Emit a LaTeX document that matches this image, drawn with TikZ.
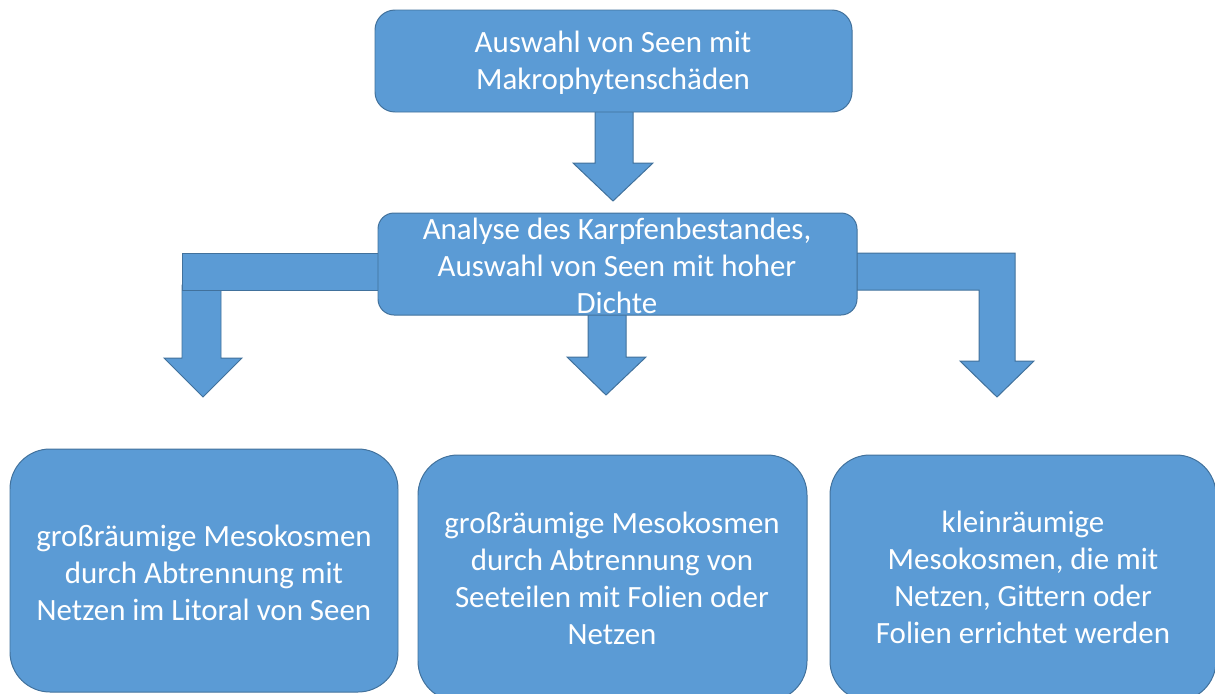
\documentclass[tikz,border=0pt]{standalone}
\usepackage{fontspec}
\setmainfont{Carlito}
\definecolor{boxfill}{HTML}{5B9BD5}
\definecolor{boxline}{HTML}{41719C}
\pgfdeclarelayer{bg}
\pgfsetlayers{bg,main}
\tikzset{
  box/.style={draw=boxline, fill=boxfill, line width=0.7pt, inner sep=0pt},
  txt/.style={text=white, align=center, inner sep=0pt, font=\fontsize{22}{26.3}\selectfont},
  blockarrow/.style={draw=boxline, fill=boxfill, line width=0.7pt, line join=miter}
}
\begin{document}
\begin{tikzpicture}[x=0.025cm, y=-0.025cm]
\useasboundingbox (0,0) rectangle (1215,693);
\clip (0,0) rectangle (1215,693);
% boxes
\node[box, rounded corners=0.5cm, minimum width=477*0.025cm, minimum height=102*0.025cm] (top) at (613.5,61) {};
\node[txt] (toptxt) at (613,63) {Auswahl von Seen mit\\Makrophytenschäden};
\node[box, rounded corners=0.4cm, minimum width=479*0.025cm, minimum height=102*0.025cm] (mid) at (617.5,264) {};
\node[txt] (midtxt) at (617,266) {Analyse des Karpfenbestandes,\\Auswahl von Seen mit hoher\\Dichte};
\node[box, rounded corners=1cm, minimum width=388*0.025cm, minimum height=243*0.025cm] (b1) at (204,570.5) {};
\node[txt] (b1txt) at (204,573) {großräumige Mesokosmen\\durch Abtrennung mit\\Netzen im Litoral von Seen};
\node[box, rounded corners=1cm, minimum width=389*0.025cm, minimum height=246*0.025cm] (b2) at (612.5,578) {};
\node[txt] (b2txt) at (612,578) {großräumige Mesokosmen\\durch Abtrennung von\\Seeteilen mit Folien oder\\Netzen};
\node[box, rounded corners=1cm, minimum width=386*0.025cm, minimum height=246*0.025cm] (b3) at (1023,578) {};
\node[txt] (b3txt) at (1023,577) {kleinräumige\\Mesokosmen, die mit\\Netzen, Gittern oder\\Folien errichtet werden};
% block arrows
\begin{pgfonlayer}{bg}
\draw[blockarrow] (595,108) -- (595,163) -- (573,163) -- (613,201) -- (653,163) -- (633,163) -- (633,108) -- cycle;
\draw[blockarrow] (588,310) -- (588,357) -- (567,357) -- (606,395) -- (646,357) -- (626,357) -- (626,310) -- cycle;
\draw[blockarrow] (182,285) -- (182,358) -- (164,358) -- (203,397) -- (242,358) -- (221,358) -- (221,285) -- cycle;
\draw[blockarrow] (385,253) -- (182,253) -- (182,290) -- (385,290) -- cycle;
\draw[blockarrow] (850,253) -- (1015,253) -- (1015,361) -- (1034,361) -- (997,397) -- (960,361) -- (979,361) -- (979,290) -- (850,290) -- cycle;
\end{pgfonlayer}
\end{tikzpicture}
\end{document}
